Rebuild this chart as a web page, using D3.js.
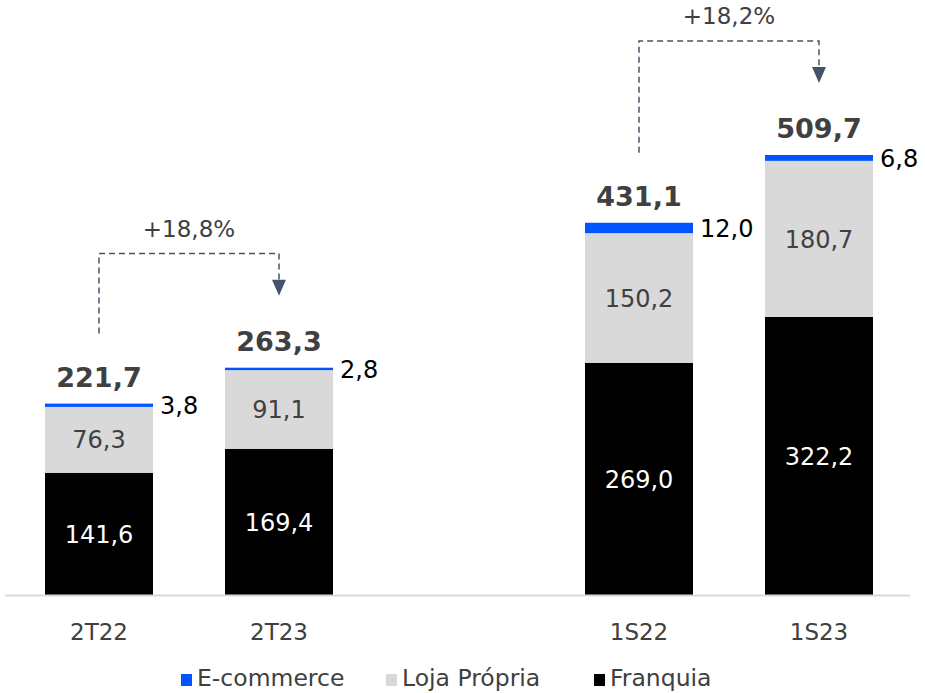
<!DOCTYPE html>
<html>
<head>
<meta charset="utf-8">
<script src="https://cdn.jsdelivr.net/npm/d3@7"></script>
<style>
  body { margin: 0; background: #fff; }
  svg text { font-family: "DejaVu Sans", Verdana, sans-serif; }
</style>
</head>
<body>
<div id="chart"></div>
<script>
// data
var categories = ["2T22", "2T23", "1S22", "1S23"];
var franquia = [141.6, 169.4, 269.0, 322.2];
var lojaPropria = [76.3, 91.1, 150.2, 180.7];
var ecommerce = [3.8, 2.8, 12.0, 6.8];
var totals = [221.7, 263.3, 431.1, 509.7];
var growth = [
    {from: "2T22", to: "2T23", label: "+18,8%"},
    {from: "1S22", to: "1S23", label: "+18,2%"}
];
var seriesNames = ["E-commerce", "Loja Própria", "Franquia"];
var seriesColors = {"Franquia": "#000000", "Loja Própria": "#d9d9d9", "E-commerce": "#0055ff"};

var width = 925, height = 693;
var fmt = function(v) { return d3.format(".1f")(v).replace(".", ","); };

var svg = d3.select("#chart").append("svg")
    .attr("width", width)
    .attr("height", height);

// empty slot between the two groups
var x = d3.scaleBand()
    .domain(["2T22", "2T23", "gap", "1S22", "1S23"])
    .range([9, 909])
    .paddingInner(0.4)
    .paddingOuter(0.2);

var y = d3.scaleLinear()
    .domain([0, d3.max(totals)])
    .range([595, 155]);

var rows = categories.map(function(c, i) {
    return {cat: c, "Franquia": franquia[i], "Loja Própria": lojaPropria[i], "E-commerce": ecommerce[i], total: totals[i]};
});

var stack = d3.stack().keys(["Franquia", "Loja Própria", "E-commerce"]);
var layers = stack(rows);

svg.selectAll(".layer")
    .data(layers)
  .enter().append("g")
    .attr("class", "layer")
    .attr("fill", function(d) { return seriesColors[d.key]; })
  .selectAll("rect")
    .data(function(d) { return d; })
  .enter().append("rect")
    .attr("x", function(d) { return x(d.data.cat); })
    .attr("y", function(d) { return y(d[1]); })
    .attr("width", x.bandwidth())
    .attr("height", function(d) { return y(d[0]) - y(d[1]); });

// baseline
svg.append("line")
    .attr("x1", 5).attr("x2", 910)
    .attr("y1", y(0) + 0.5).attr("y2", y(0) + 0.5)
    .attr("stroke", "#d9d9d9")
    .attr("stroke-width", 2);

// segment labels
var franq = layers[0], loja = layers[1], ecom = layers[2];
svg.selectAll(".lab-fr")
    .data(franq)
  .enter().append("text")
    .attr("x", function(d) { return x(d.data.cat) + x.bandwidth() / 2; })
    .attr("y", function(d) { return (y(d[0]) + y(d[1])) / 2; })
    .attr("dy", "0.36em")
    .attr("text-anchor", "middle")
    .attr("font-size", 24)
    .attr("fill", "#fff")
    .text(function(d) { return fmt(d[1] - d[0]); });

svg.selectAll(".lab-lo")
    .data(loja)
  .enter().append("text")
    .attr("x", function(d) { return x(d.data.cat) + x.bandwidth() / 2; })
    .attr("y", function(d) { return (y(d[0]) + y(d[1])) / 2; })
    .attr("dy", "0.36em")
    .attr("text-anchor", "middle")
    .attr("font-size", 24)
    .attr("fill", "#404040")
    .text(function(d) { return fmt(d[1] - d[0]); });

svg.selectAll(".lab-ec")
    .data(ecom)
  .enter().append("text")
    .attr("x", function(d) { return x(d.data.cat) + x.bandwidth() + 7; })
    .attr("y", function(d) { return (y(d[0]) + y(d[1])) / 2; })
    .attr("dy", "0.36em")
    .attr("font-size", 24)
    .attr("fill", "#000")
    .text(function(d) { return fmt(d[1] - d[0]); });

svg.selectAll(".lab-tot")
    .data(rows)
  .enter().append("text")
    .attr("x", function(d) { return x(d.cat) + x.bandwidth() / 2; })
    .attr("y", function(d) { return y(d.total) - 17; })
    .attr("text-anchor", "middle")
    .attr("font-size", 27)
    .attr("font-weight", "bold")
    .attr("fill", "#404040")
    .text(function(d) { return fmt(d.total); });

// x axis labels
svg.selectAll(".xlab")
    .data(categories)
  .enter().append("text")
    .attr("x", function(d) { return x(d) + x.bandwidth() / 2; })
    .attr("y", 640)
    .attr("text-anchor", "middle")
    .attr("font-size", 23)
    .attr("fill", "#404040")
    .text(function(d) { return d; });

// growth brackets
var arrowColor = "#44546a";
growth.forEach(function(g) {
    var i0 = categories.indexOf(g.from), i1 = categories.indexOf(g.to);
    var x0 = x(g.from) + x.bandwidth() / 2, x1 = x(g.to) + x.bandwidth() / 2;
    var yStart = y(totals[i0]) - 70;
    var yTip = y(totals[i1]) - 72;
    var yTop = Math.min(yTip - 42, yStart - 80);
    svg.append("path")
        .attr("d", "M" + x0 + "," + yStart + "V" + yTop + "H" + x1 + "V" + (yTip - 15))
        .attr("fill", "none")
        .attr("stroke", arrowColor)
        .attr("stroke-width", 1.5)
        .attr("stroke-dasharray", "6,4");
    svg.append("path")
        .attr("d", "M" + (x1 - 7) + "," + (yTip - 16) + "L" + (x1 + 7) + "," + (yTip - 16) + "L" + x1 + "," + yTip + "Z")
        .attr("fill", arrowColor);
    svg.append("text")
        .attr("x", (x0 + x1) / 2)
        .attr("y", yTop - 17)
        .attr("text-anchor", "middle")
        .attr("font-size", 23)
        .attr("fill", "#404040")
        .text(g.label);
});

// legend
var legendX = [181, 386, 594];
var legend = svg.selectAll(".legend")
    .data(seriesNames)
  .enter().append("g")
    .attr("transform", function(d, i) { return "translate(" + legendX[i] + ",674)"; });
legend.append("rect")
    .attr("width", 11)
    .attr("height", 12)
    .attr("fill", function(d) { return seriesColors[d]; });
legend.append("text")
    .attr("x", 16)
    .attr("y", 12)
    .attr("font-size", 23.5)
    .attr("fill", "#404040")
    .text(function(d) { return d; });
</script>
</body>
</html>
